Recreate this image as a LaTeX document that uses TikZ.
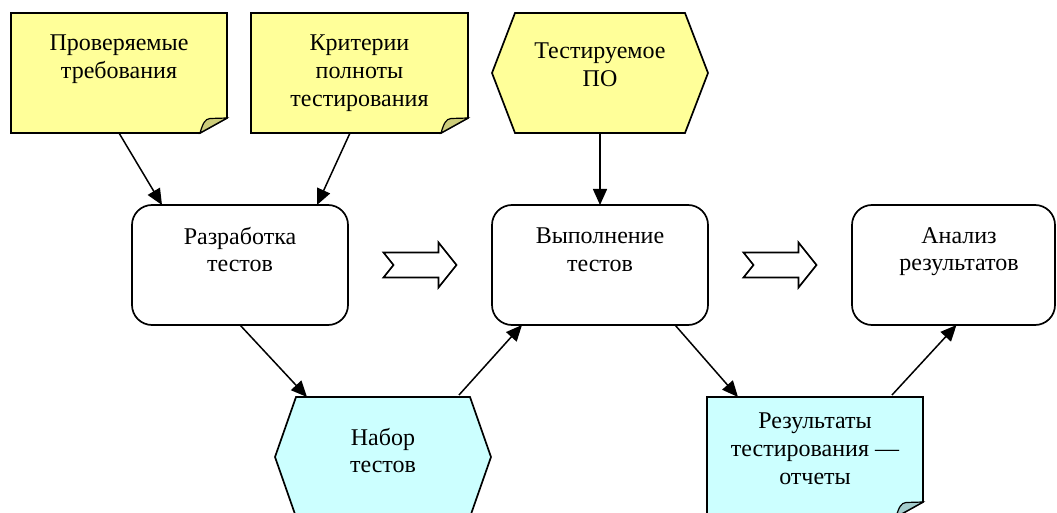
\documentclass[tikz,border=0pt]{standalone}
\usepackage{fontspec}
\setmainfont{Liberation Serif}
\usetikzlibrary{calc,arrows.meta}

\definecolor{noteyellow}{HTML}{FFFF99}
\definecolor{foldyellow}{HTML}{CCCC7A}
\definecolor{notecyan}{HTML}{CCFFFF}
\definecolor{foldcyan}{HTML}{A3CCCC}

% sticky note with a curled lower right corner: #1 frame node, #2 fill, #3 curl fill
\newcommand\drawnote[3]{%
  \path[shapeline, fill=#2] (#1.north west) -- (#1.north east)
    -- ([yshift=15pt]#1.south east) -- ([xshift=-27pt]#1.south east)
    -- (#1.south west) -- cycle;
  \path[shapeline, fill=#3, line width=1.2pt] ([xshift=-27pt]#1.south east)
    .. controls ([xshift=-24pt,yshift=10pt]#1.south east)
    and ([xshift=-22pt,yshift=14pt]#1.south east)
    .. ([xshift=-17pt,yshift=14.5pt]#1.south east)
    -- ([yshift=15pt]#1.south east) -- cycle;
}
% hexagon over a frame node: #1 frame node, #2 fill, #3 chamfer
\newcommand\drawhex[3]{%
  \path[shapeline, fill=#2] ([xshift=#3]#1.north west) -- ([xshift=-#3]#1.north east)
    -- (#1.east) -- ([xshift=-#3]#1.south east) -- ([xshift=#3]#1.south west)
    -- (#1.west) -- cycle;
}
% notched block arrow centred on a coordinate
\newcommand\drawblockarrow[1]{%
  \path[blockarrow] ([xshift=-36.5pt,yshift=12.5pt]#1) -- ([xshift=18.5pt,yshift=12.5pt]#1)
    -- ([xshift=18.5pt,yshift=22.5pt]#1) -- ([xshift=36.5pt]#1)
    -- ([xshift=18.5pt,yshift=-22.5pt]#1) -- ([xshift=18.5pt,yshift=-12.5pt]#1)
    -- ([xshift=-36.5pt,yshift=-12.5pt]#1) -- ([xshift=-26.5pt]#1) -- cycle;
}

\begin{document}
\begin{tikzpicture}[x=1pt,y=-1pt,
  frame/.style={minimum width=216pt, minimum height=120pt, inner sep=0pt, outer sep=0pt},
  procbox/.style={frame, draw, line width=1.7pt, rounded corners=20pt, fill=white},
  shapeline/.style={draw, line width=1.7pt, line join=miter},
  caption/.style={font=\fontsize{24}{27.6}\selectfont, align=center, anchor=north, inner sep=0pt},
  link/.style={line width=1.5pt, -{Triangle[length=16pt,width=14pt]}},
  blockarrow/.style={draw, line width=1.7pt, fill=white, line join=miter},
]
\useasboundingbox (0,0) rectangle (1057,513);

% inputs
\node[frame] (req) at (119,73) {};
\drawnote{req}{noteyellow}{foldyellow}
\node[caption] (req-t) at ([yshift=-22pt]req.north) {Проверяемые\\требования};

\node[frame, minimum width=217pt] (crit) at (359.5,73) {};
\drawnote{crit}{noteyellow}{foldyellow}
\node[caption] (crit-t) at ([yshift=-22pt]crit.north) {Критерии\\полноты\\тестирования};

\node[frame] (sut) at (600,73) {};
\drawhex{sut}{noteyellow}{23pt}
\node[caption] (sut-t) at ([yshift=-30pt]sut.north) {Тестируемое\\ПО};

% process steps
\node[procbox] (dev) at (240,265) {};
\node[caption] (dev-t) at ([yshift=-22pt]dev.north) {Разработка\\тестов};

\node[procbox] (run) at (600,265) {};
\node[caption] (run-t) at ([yshift=-23pt]run.north) {Выполнение\\тестов};

\node[procbox, minimum width=203pt] (an) at (953.5,265) {};
\node[caption] (an-t) at ([xshift=5.5pt,yshift=-22pt]an.north) {Анализ\\результатов};

% artefacts
\node[frame] (suite) at (383,457) {};
\drawhex{suite}{notecyan}{21pt}
\node[caption] (suite-t) at ([yshift=-31pt]suite.north) {Набор\\тестов};

\node[frame] (res) at (815,457) {};
\drawnote{res}{notecyan}{foldcyan}
\node[caption] (res-t) at ([yshift=-16pt]res.north) {Результаты\\тестирования —\\отчеты};

% flow between steps
\coordinate (flow1) at ($(dev.east)!0.5!(run.west)$);
\coordinate (flow2) at ($(run.east)!0.5!(an.west)$);
\drawblockarrow{flow1}
\drawblockarrow{flow2}

% connectors
\draw[link] (req.south) -- ([xshift=30pt]dev.north west);
\draw[link] ([xshift=-9.5pt]crit.south) -- ([xshift=-31pt]dev.north east);
\draw[link] (sut.south) -- (run.north);
\draw[link] (dev.south) -- ([xshift=32pt]suite.north west);
\draw[link] ([xshift=-32pt,yshift=2pt]suite.north east) -- ([xshift=30pt]run.south west);
\draw[link] ([xshift=-33pt]run.south east) -- ([xshift=31pt]res.north west);
\draw[link] ([xshift=-31pt,yshift=2pt]res.north east) -- ([xshift=104.5pt]an.south west);
\end{tikzpicture}
\end{document}
